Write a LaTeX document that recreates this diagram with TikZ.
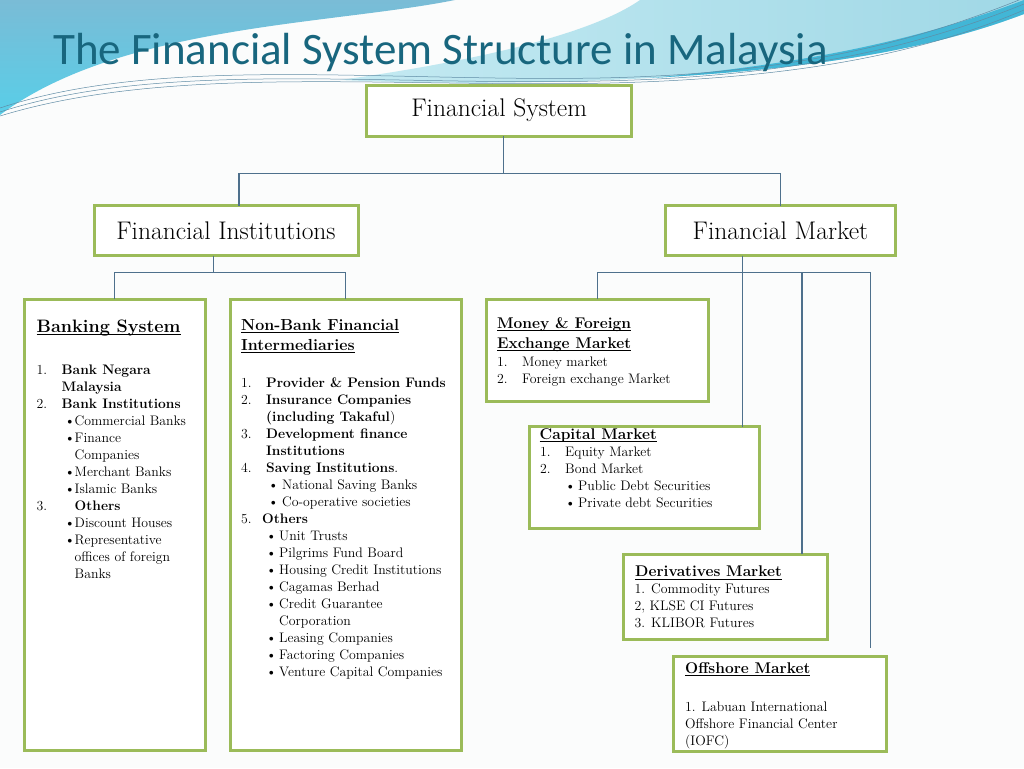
\documentclass[tikz,border=0pt]{standalone}
\usepackage{fontspec}
\newfontfamily\titlefont{Carlito}
\definecolor{boxgreen}{RGB}{155,187,89}
\definecolor{connblue}{RGB}{78,112,140}
\definecolor{titleblue}{RGB}{24,102,126}
\definecolor{wavetop}{RGB}{122,188,214}
\definecolor{wavecyan}{RGB}{88,206,232}
\definecolor{lightwaveL}{RGB}{196,234,242}
\definecolor{lightwaveR}{RGB}{160,216,230}
\definecolor{stripecyan}{RGB}{66,182,214}
\definecolor{thinline}{RGB}{96,140,165}
\definecolor{slidebg}{RGB}{251,252,252}
\tikzset{
  gbox/.style={draw=boxgreen, line width=3pt, fill=white, inner sep=0pt, outer sep=0pt},
  conn/.style={draw=connblue, line width=1.1pt},
  bigtext/.style={font=\fontsize{25.5}{30}\selectfont, text=black},
  headtext/.style={anchor=north west, inner sep=0pt, align=left, font=\bfseries\fontsize{15.5}{20}\selectfont},
  listtext/.style={anchor=north west, inner sep=0pt, align=left, font=\fontsize{13.8}{17}\selectfont},
  wave/.style={draw=thinline, line width=0.5pt},
}
\newcommand\ulbox[1]{\setbox0\hbox{#1}\rlap{\rule[-2.8pt]{\wd0}{0.9pt}}\box0}
\newcommand\numcol[1]{\makebox[25pt][l]{#1}}
\newcommand\bitem[3]{\hspace*{#1pt}\makebox[#2pt][l]{\textbullet}#3}
\begin{document}
\begin{tikzpicture}[x=1pt, y=-1pt]
\useasboundingbox (0,0) rectangle (1024,768);
\fill[slidebg] (0,0) rectangle (1024,768);
% background waves
\shade[top color=wavetop, bottom color=wavecyan]
  (0,0) -- (455,0) .. controls (330,25) and (120,25) .. (0,115) -- cycle;
\shade[left color=lightwaveL, right color=lightwaveR]
  (640,0) -- (1024,0) -- (1024,14) .. controls (940,46) and (830,68) .. (650,78)
  .. controls (540,84) and (430,84) .. (340,80) .. controls (470,62) and (590,35) .. (640,0) -- cycle;
\fill[stripecyan] (1024,14) .. controls (940,46) and (830,68) .. (650,78)
  .. controls (830,62) and (940,32) .. (1024,0) -- cycle;
\draw[wave] (0,108) .. controls (160,55) and (380,82) .. (600,78) .. controls (800,74) and (920,40) .. (1024,-2);
\draw[wave] (0,112) .. controls (160,60) and (380,86) .. (600,81) .. controls (800,77) and (925,44) .. (1024,4);
\draw[wave] (0,116) .. controls (170,64) and (390,88) .. (610,83) .. controls (810,78) and (930,50) .. (1024,10);
% title
\node[anchor=base west, inner sep=0pt, font=\titlefont\fontsize{45}{54}\selectfont, text=titleblue] (title) at (53,64) {The Financial System Structure in Malaysia};
% boxes
\node[gbox, bigtext, minimum width=265, minimum height=51] (fs) at (499.2,110.5) {Financial System};
\node[gbox, bigtext, minimum width=264, minimum height=50.2] (fi) at (226,230.6) {Financial Institutions};
\node[gbox, bigtext, minimum width=230.7, minimum height=50.2] (fm) at (780.4,230.6) {Financial Market};
\node[gbox, minimum width=181, minimum height=451] (bank) at (114.5,524.5) {};
\node[gbox, minimum width=231.5, minimum height=451] (nbfi) at (345.75,524.5) {};
\node[gbox, minimum width=222.3, minimum height=102] (money) at (597.15,350) {};
\node[gbox, minimum width=230, minimum height=101.6] (cap) at (644.3,477.5) {};
\node[gbox, minimum width=204.4, minimum height=85.3] (deriv) at (725.5,596.65) {};
\node[gbox, minimum width=213.4, minimum height=94.3] (off) at (780,703.85) {};
% connectors
\coordinate (fsbus) at (503.3,173.3);
\coordinate (busL) at (239,173.3);
\coordinate (busR) at (780.4,173.3);
\draw[conn] (fsbus |- fs.south) -- (fsbus);
\draw[conn] (busL |- fi.north) -- (busL) -- (busR) -- (fm.north);
\coordinate (fibus) at (213.7,272.7);
\draw[conn] (fibus |- fi.south) -- (fibus);
\draw[conn] (bank.north) -- (bank.north |- fibus) -- (nbfi.north |- fibus) -- (nbfi.north);
\coordinate (fmbus) at (742.5,272.7);
\coordinate (fmD) at (802,272.7);
\coordinate (fmR) at (870.5,272.7);
\coordinate (offend) at (870.5,647.7);
\draw[conn] (fmbus |- fm.south) -- (fmbus |- cap.north);
\draw[conn] (money.north) -- (money.north |- fmbus) -- (fmR) -- (offend);
\draw[conn] (fmD) -- (fmD |- deriv.north);
% Banking system
\node[headtext, font=\bfseries\fontsize{18}{22}\selectfont] (bankhead) at (36.5,319.3) {\rule{0pt}{13pt}\ulbox{Banking System}};
\node[listtext] (banklist) at (36.5,364.3) {\rule{0pt}{10pt}\numcol{1.}\textbf{Bank Negara}\\
\hspace*{25pt}\textbf{Malaysia}\\
\numcol{2.}\textbf{Bank Institutions}\\
\bitem{28}{10}{Commercial Banks}\\
\bitem{28}{10}{Finance}\\
\hspace*{38pt}Companies\\
\bitem{28}{10}{Merchant Banks}\\
\bitem{28}{10}{Islamic Banks}\\
\makebox[38pt][l]{3.}\textbf{Others}\\
\bitem{28}{10}{Discount Houses}\\
\bitem{28}{10}{Representative}\\
\hspace*{38pt}offices of foreign\\
\hspace*{38pt}Banks};
% Non-bank
\node[headtext, font=\bfseries\fontsize{16}{20}\selectfont] (nbfihead) at (241,318) {\rule{0pt}{12pt}\ulbox{Non-Bank Financial}\\ \ulbox{Intermediaries}};
\node[listtext] (nbfilist) at (241,377.7) {\rule{0pt}{10pt}\numcol{1.}\textbf{Provider \& Pension Funds}\\
\numcol{2.}\textbf{Insurance Companies}\\
\hspace*{25pt}\textbf{(including Takaful})\\
\numcol{3.}\textbf{Development finance}\\
\hspace*{25pt}\textbf{Institutions}\\
\numcol{4.}\textbf{Saving Institutions}.\\
\bitem{27}{14}{National Saving Banks}\\
\bitem{27}{14}{Co-operative societies}\\
\makebox[21pt][l]{5.}\textbf{Others}\\
\bitem{25}{13}{Unit Trusts}\\
\bitem{25}{13}{Pilgrims Fund Board}\\
\bitem{25}{13}{Housing Credit Institutions}\\
\bitem{25}{13}{Cagamas Berhad}\\
\bitem{25}{13}{Credit Guarantee}\\
\hspace*{38pt}Corporation\\
\bitem{25}{13}{Leasing Companies}\\
\bitem{25}{13}{Factoring Companies}\\
\bitem{25}{13}{Venture Capital Companies}};
% Money & FX
\node[headtext] (moneyhead) at (497,316.3) {\rule{0pt}{12pt}\ulbox{Money \& Foreign}\\ \ulbox{Exchange Market}};
\node[listtext] (moneylist) at (497,356.7) {\rule{0pt}{10pt}\numcol{1.}Money market\\
\numcol{2.}Foreign exchange Market};
% Capital
\node[headtext] (caphead) at (539.5,427) {\rule{0pt}{12pt}\ulbox{Capital Market}};
\node[listtext] (caplist) at (540,446.7) {\rule{0pt}{10pt}\numcol{1.}Equity Market\\
\numcol{2.}Bond Market\\
\bitem{25}{13}{Public Debt Securities}\\
\bitem{25}{13}{Private debt Securities}};
% Derivatives
\node[headtext] (derivhead) at (635,564.7) {\rule{0pt}{12pt}\ulbox{Derivatives Market}};
\node[listtext] (derivlist) at (634.5,583.3) {\rule{0pt}{10pt}1. Commodity Futures\\
2, KLSE CI Futures\\
3. KLIBOR Futures};
% Offshore
\node[headtext] (offhead) at (685,661.3) {\rule{0pt}{12pt}\ulbox{Offshore Market}};
\node[listtext] (offlist) at (685,701.7) {\rule{0pt}{10pt}1. Labuan International\\
Offshore Financial Center\\
(IOFC)};
\end{tikzpicture}
\end{document}
